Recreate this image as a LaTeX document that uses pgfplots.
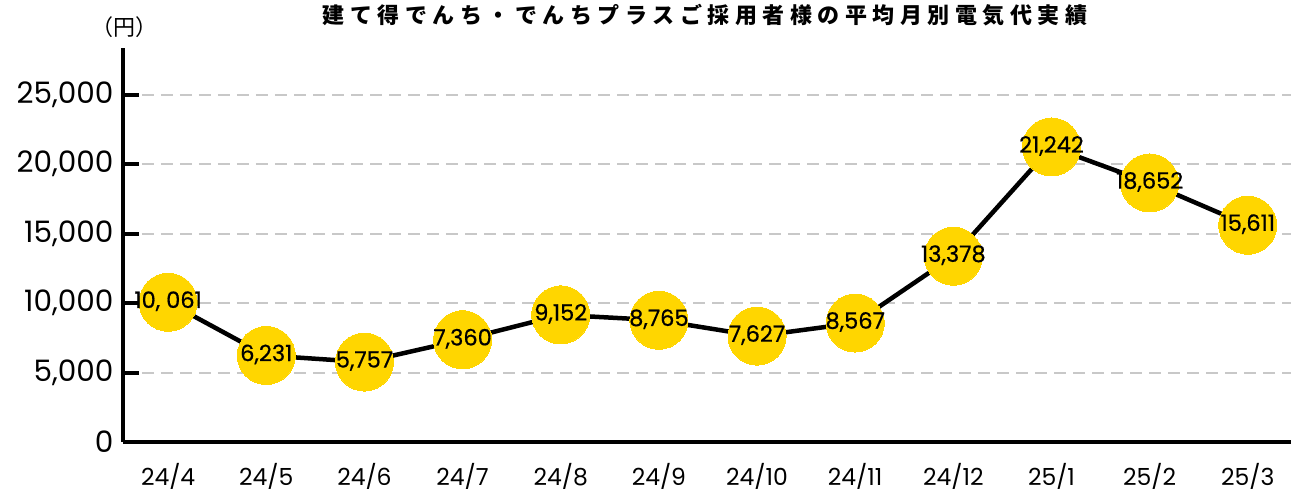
\documentclass[border=0pt]{standalone}
\usepackage{pgfplots}
\usepackage{pgfplotstable}
\pgfplotsset{compat=1.18}
\usepackage{fontspec}
\setmainfont{Noto Sans CJK JP}
\newfontfamily\numfont{Poppins}
\newfontfamily\numfontb[FakeBold=0.6]{Poppins}
\definecolor{gold}{HTML}{FFD600}
\definecolor{gridgray}{HTML}{C8C8C8}
\pgfplotstableread[col sep=semicolon]{
x;y;label
0;10061;10, 061
1;6231;6,231
2;5757;5,757
3;7360;7,360
4;9152;9,152
5;8765;8,765
6;7627;7,627
7;8567;8,567
8;13378;13,378
9;21242;21,242
10;18652;18,652
11;15611;15,611
}\datatable
\begin{document}
\begin{tikzpicture}
\useasboundingbox (-123pt,-52pt) rectangle (1168pt,442pt);
\begin{axis}[
  scale only axis, width=1168pt, height=394pt,
  xmin=-0.46, xmax=11.44, ymin=0, ymax=28370,
  axis lines=left,
  axis line style={-, line width=4.5pt, black},
  ytick={0,5000,10000,15000,20000,25000},
  scaled y ticks=false,
  /pgf/number format/1000 sep={,},
  /pgf/number format/assume math mode=true,
  yticklabel style={font=\numfont\fontsize{29.5}{29.5}\selectfont, anchor=east, xshift=-6pt},
  xtick={0,...,11},
  xticklabels={24/4,24/5,24/6,24/7,24/8,24/9,24/10,24/11,24/12,25/1,25/2,25/3},
  xticklabel style={font=\numfont\fontsize{23.5}{23.5}\selectfont, anchor=base, inner sep=0pt, text depth=0pt, yshift=-44pt},
  xtick style={draw=none},
  tick align=inside,
  major tick length=16pt,
  ytick style={black, line width=4pt},
  ymajorgrids,
  major grid style={gridgray, line width=2pt, dash pattern=on 12pt off 7pt},
  clip=false,
]
\addplot[black, line width=4.5pt, mark=*, mark size=29pt,
  mark options={fill=gold, draw=gold, line width=0pt, solid},
  nodes near coords, point meta=explicit symbolic,
  nodes near coords align={center},
  every node near coord/.append style={font=\numfontb\fontsize{22.5}{22.5}\selectfont, anchor=center, text=black, yshift=1pt}]
  table[x=x, y=y, meta=label] {\datatable};
\end{axis}
\node[font=\bfseries\fontsize{22}{22}\selectfont\addfontfeatures{LetterSpace=25}] at (705pt-123pt,427pt) {建て得でんち・でんちプラスご採用者様の平均月別電気代実績};
\node[font=\fontsize{22}{22}\selectfont] at (2pt,415pt) {（円）};
\end{tikzpicture}
\end{document}
